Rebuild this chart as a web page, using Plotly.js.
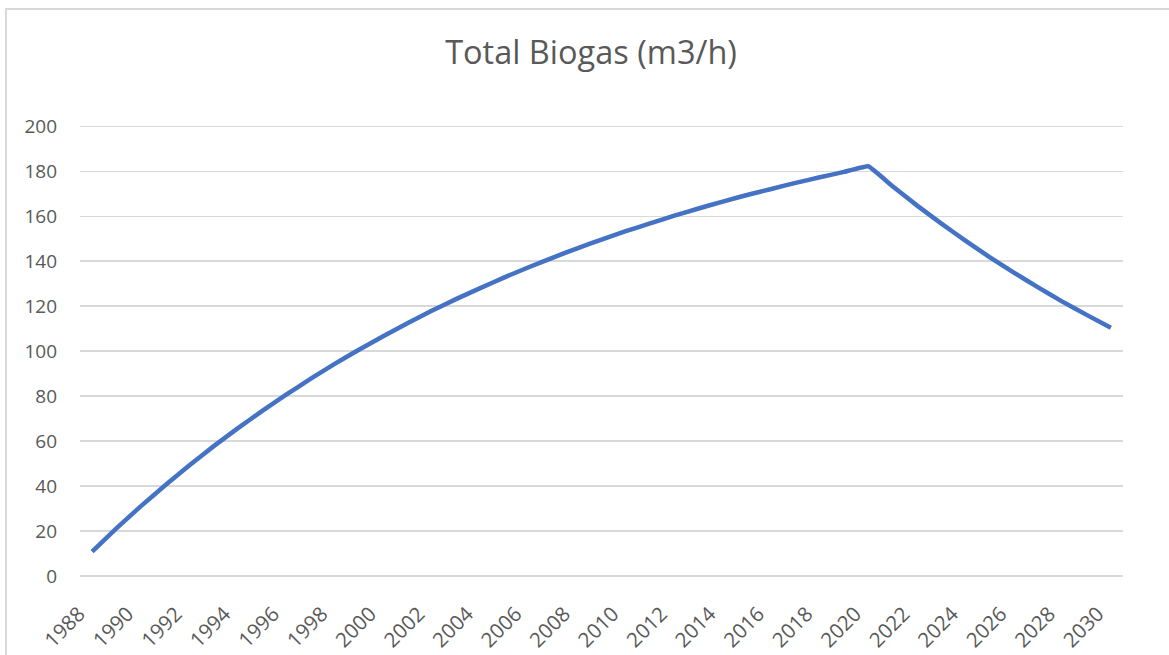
<!DOCTYPE html>
<html>
<head>
<meta charset="utf-8">
<script src="https://cdn.plot.ly/plotly-3.0.1.min.js"></script>
<style>
  html, body { margin: 0; padding: 0; background: #fff; overflow: hidden; }
  #chart { width: 1169px; height: 655px; }
  #frame { position: absolute; left: 5px; top: 8px; width: 1300px; height: 800px;
           border-left: 2px solid #d9d9d9; border-top: 2px solid #d9d9d9; pointer-events: none; }
</style>
</head>
<body>
<div id="chart"></div>
<div id="frame"></div>
<script>
const years = [
  1988, 1989, 1990, 1991, 1992, 1993, 1994, 1995, 1996, 1997,
  1998, 1999, 2000, 2001, 2002, 2003, 2004, 2005, 2006, 2007,
  2008, 2009, 2010, 2011, 2012, 2013, 2014, 2015, 2016, 2017,
  2018, 2019, 2020, 2021, 2022, 2023, 2024, 2025, 2026, 2027,
  2028, 2029, 2030
];
const totalBiogas = [
  10.8, 21.1, 30.9, 40.2, 49.1, 57.6, 65.6, 73.3, 80.6, 87.6,
  94.3, 100.6, 106.6, 112.4, 117.9, 123.1, 128.0, 132.8, 137.3, 141.6,
  145.7, 149.6, 153.3, 156.8, 160.2, 163.4, 166.5, 169.4, 172.1, 174.8,
  177.3, 179.7, 182.2, 173.3, 164.8, 156.8, 149.1, 141.8, 134.9, 128.3,
  122.0, 116.1, 110.4
];
const xTickVals = [1988, 1990, 1992, 1994, 1996, 1998, 2000, 2002, 2004, 2006, 2008,
                   2010, 2012, 2014, 2016, 2018, 2020, 2022, 2024, 2026, 2028, 2030];
const xTickText = xTickVals.map(String);
const yTickVals = [0, 20, 40, 60, 80, 100, 120, 140, 160, 180, 200];
const chartTitle = 'Total Biogas (m3/h)';

const font = '"Open Sans", "Noto Sans", sans-serif';

Plotly.newPlot('chart', [{
  x: years,
  y: totalBiogas,
  type: 'scatter',
  mode: 'lines',
  line: { color: '#4472C4', width: 4.5, shape: 'spline', smoothing: 0.25 },
  hoverinfo: 'x+y'
}], {
  width: 1169,
  height: 655,
  paper_bgcolor: '#ffffff',
  plot_bgcolor: '#ffffff',
  margin: { l: 80, r: 46, t: 124, b: 78 },
  showlegend: false,
  title: {
    text: chartTitle,
    font: { family: font, size: 32.5, color: '#595959' },
    x: 0.5056, xref: 'container', xanchor: 'center',
    y: 0.92, yref: 'container', yanchor: 'middle'
  },
  xaxis: {
    range: [1987.5, 2030.5],
    tickmode: 'array',
    tickvals: xTickVals,
    ticktext: xTickText,
    tickangle: -45,
    showgrid: false,
    zeroline: false,
    showline: false,
    ticks: '',
    ticklabelstandoff: 20,
    ticklabelshift: -13,
    tickfont: { family: font, size: 20.5, color: '#595959' },
    fixedrange: true
  },
  yaxis: {
    range: [-0.5, 201],
    tickmode: 'array',
    tickvals: yTickVals,
    showgrid: true,
    gridcolor: '#d9d9d9',
    gridwidth: 1.3,
    zeroline: true,
    zerolinecolor: '#d9d9d9',
    zerolinewidth: 1.3,
    showline: false,
    ticks: '',
    ticklabelstandoff: 22,
    tickfont: { family: font, size: 19, color: '#595959' },
    fixedrange: true
  }
}, { displayModeBar: false, staticPlot: true });
</script>
</body>
</html>
